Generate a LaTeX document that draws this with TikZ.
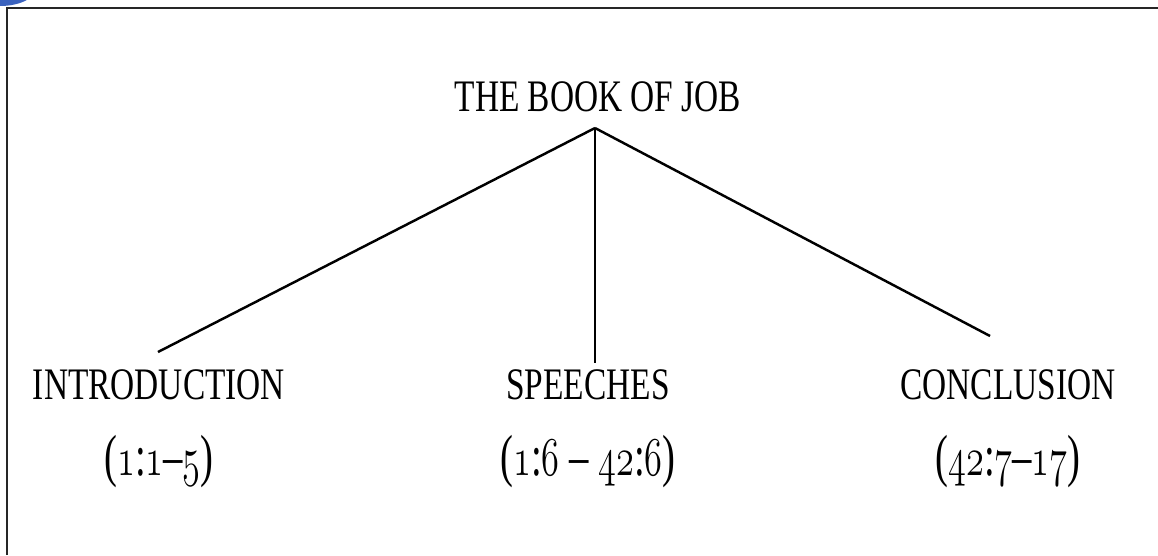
\documentclass[tikz,border=0pt]{standalone}
\usepackage{fontspec}
\setmainfont{Liberation Serif}
\usepackage{tikz}
\usetikzlibrary{positioning,calc}
\definecolor{cornerblue}{RGB}{58,98,190}
\newcommand{\tallcaps}[1]{\scalebox{1}[1.35]{#1}}
\newcommand{\tallrefs}[1]{\scalebox{1}[1.5]{#1}}
\newcommand{\osn}[1]{{\usefont{OML}{cmm}{m}{it}#1}}
\tikzset{caps/.style={font=\fontsize{19}{22}\selectfont},
         refs/.style={font=\fontsize{22}{26}\selectfont},
         branch/.style={line width=1.4pt}}

\begin{document}
\begin{tikzpicture}[x=0.02cm,y=-0.02cm]
\useasboundingbox (0,0) rectangle (1158,555);
\begin{scope}
\clip (0,0) rectangle (1158,555);
\fill[cornerblue] (0,-12) ellipse (36 and 18);
\end{scope}
\draw[line width=0.8pt,black!85] (7,555) -- (7,8) -- (1158,8);
\node[caps] (book) at (598,97) {\tallcaps{THE BOOK OF JOB}};
\node[caps] (intro) at (159,385) {\tallcaps{INTRODUCTION}};
\node[caps] (speeches) at (588,385) {\tallcaps{SPEECHES}};
\node[caps] (concl) at (1008,385) {\tallcaps{CONCLUSION}};
\node[refs] (introref) at (159,462) {\tallrefs{(\osn{1}:\osn{1}–\osn{5})}};
\node[refs] (speechref) at (588,462) {\tallrefs{(\osn{1}:\osn{6} – \osn{42}:\osn{6})}};
\node[refs] (conclref) at (1008,462) {\tallrefs{(\osn{42}:\osn{7}–\osn{17})}};
\coordinate (apex) at (595,128);
\coordinate (introtop) at (158,352);
\coordinate (speechtop) at (595,363);
\coordinate (concltop) at (990,336);
\draw[branch] (apex) -- (introtop);
\draw[branch,line width=0.9pt] (apex) -- (speechtop);
\draw[branch] (apex) -- (concltop);
\end{tikzpicture}
\end{document}
